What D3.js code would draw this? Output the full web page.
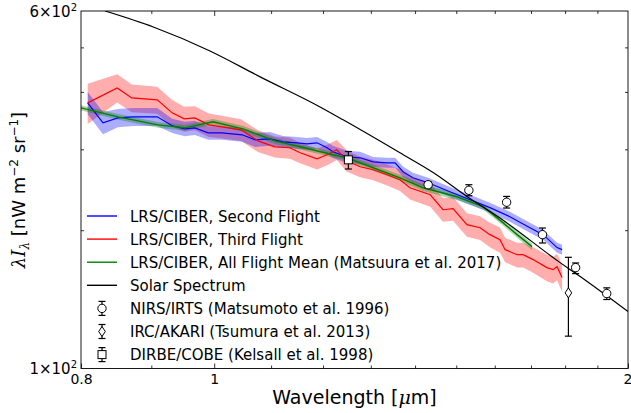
<!DOCTYPE html>
<html><head><meta charset="utf-8">
<script src="https://cdn.jsdelivr.net/npm/d3@7"></script>
<style>
body{margin:0;background:#fff}
svg{display:block}
text{font-family:"DejaVu Sans",sans-serif;fill:#000}
</style>
</head><body>
<svg id="chart" width="631" height="413"></svg>
<script>
// ---------- data ----------
const blueWl  = [0.809,0.830,0.851,0.873,0.909,0.932,0.952,0.968,0.990,1.013,1.048,1.071,1.098,1.122,1.149,1.168,1.188,1.208,1.220,1.249,1.277,1.305,1.336,1.354,1.372,1.395,1.431,1.484,1.535,1.587,1.641,1.697,1.735,1.776,1.791];
const blueVal = [378.6,342.6,351.2,353.0,353.0,337.5,332.4,334.1,325.8,325.8,322.6,314.6,316.2,311.5,309.9,308.4,309.9,302.3,296.3,289.0,287.5,281.8,280.4,280.4,268.1,260.1,253.7,242.5,233.0,223.9,214.0,202.5,195.6,183.3,181.4];
const blueErr = [21,19,16,16,16,12,12,12,11,11,11,11,11,9,9,9,9,9,9,9,9,7,7,7,7,6.5,6.3,6,5.8,5.6,5.4,5,4.9,4.6,4.5];

const redWl  = [0.809,0.850,0.871,0.909,0.932,0.951,0.968,0.991,1.013,1.046,1.076,1.107,1.135,1.155,1.188,1.208,1.228,1.249,1.277,1.305,1.336,1.365,1.388,1.436,1.467,1.492,1.527,1.561,1.587,1.614,1.628,1.661,1.678,1.706,1.746,1.764,1.776,1.791];
const redVal = [378.6,408.1,388.2,384.3,360.1,349.5,351.2,339.1,335.8,330.8,313.0,303.8,302.3,294.8,286.1,291.9,299.2,283.2,274.9,270.8,264.1,257.5,247.4,238.9,221.6,222.8,205.6,202.5,195.6,190.7,181.4,176.9,176.9,172.6,165.8,164.1,166.6,157.7];
const redErr = [38,29,27,26,24,22,21,20,19,18,17,16,16,15,15,15,15,15,14,14,14,14,14,14,13,13,12,12,12,12,11,11,11,11,11,11,11,11];

const greenWl  = [0.800,0.851,0.910,0.952,0.998,1.049,1.107,1.155,1.220,1.249,1.305,1.365,1.419,1.502,1.569,1.622,1.661,1.703];
const greenVal = [369.3,353.0,339.1,334.1,344.3,332.4,313.0,303.8,291.9,287.5,273.5,260.1,247.4,236.5,225.0,207.7,195.6,184.2];
const greenErr = [5,5,5,5,5,5,5,4,4,4,4,4,4,4,3,3,3,3];

const solarWl  = [0.833,0.903,0.993,1.080,1.194,1.241,1.365,1.443,1.527,1.614,1.785,1.846,2.0];
const solarVal = [600,553.9,491.2,431.3,371.0,347.8,294.8,267.0,236.9,212.6,170.0,158.5,133.0];

const irtsWl  = [1.431,1.532,1.632,1.733,1.832,1.930];
const irtsVal = [251.2,244.3,230.1,195.6,165.8,145.6];
const irtsLo  = [247.5,237.7,223.5,187.6,160.9,141.3];
const irtsHi  = [255.0,251.2,236.9,202.2,169.7,149.8];

const akariWl  = [1.81];
const akariVal = [146.1];
const akariLo  = [117.6];
const akariHi  = [174.6];

const dirbeWl  = [1.252];
const dirbeVal = [284.6];
const dirbeLo  = [271.8];
const dirbeHi  = [296.7];

const xMajorTicks = [0.8, 1, 2];
const xMinorTicks = [0.9, 1.1, 1.2, 1.3, 1.4, 1.5, 1.6, 1.7, 1.8, 1.9];
const yMinorTicks = [200, 300, 400, 500];
const yTickLabels = [{v:600, m:"6×10", e:"2"}, {v:100, m:"1×10", e:"2"}];

const legendLines = [
  {label:"LRS/CIBER, Second Flight", color:"#0000ff"},
  {label:"LRS/CIBER, Third Flight", color:"#ff0000"},
  {label:"LRS/CIBER, All Flight Mean (Matsuura et al. 2017)", color:"#008000"},
  {label:"Solar Spectrum", color:"#000000"}
];
const legendPoints = [
  {label:"NIRS/IRTS (Matsumoto et al. 1996)", shape:"circle"},
  {label:"IRC/AKARI (Tsumura et al. 2013)", shape:"diamond"},
  {label:"DIRBE/COBE (Kelsall et al. 1998)", shape:"square"}
];

// ---------- layout ----------
const L = 81, R = 628, T = 11, B = 368.5;
const svg = d3.select("#chart");
const x = d3.scaleLog().domain([0.8, 2]).range([L, R]);
const y = d3.scaleLog().domain([100, 600]).range([B, T]);

svg.append("defs").append("clipPath").attr("id","clip")
  .append("rect").attr("x",L).attr("y",T).attr("width",R-L).attr("height",B-T);
const plot = svg.append("g").attr("clip-path","url(#clip)");

function zipS(wl, v, e){ return wl.map((w,i)=>({w, v:v[i], e:e ? e[i] : 0})); }

const area = d3.area().x(d=>x(d.w)).y0(d=>y(d.v-d.e)).y1(d=>y(d.v+d.e));
const line = d3.line().x(d=>x(d.w)).y(d=>y(d.v));
const smooth = d3.line().x(d=>x(d.w)).y(d=>y(d.v)).curve(d3.curveMonotoneX);

const blue = zipS(blueWl, blueVal, blueErr);
const red = zipS(redWl, redVal, redErr);
const green = zipS(greenWl, greenVal, greenErr);
const solar = zipS(solarWl, solarVal);

plot.append("path").datum(red).attr("d", area).attr("fill","rgba(255,0,0,0.32)");
plot.append("path").datum(blue).attr("d", area).attr("fill","rgba(0,0,255,0.32)");
plot.append("path").datum(green).attr("d", area).attr("fill","rgba(0,128,0,0.32)");

plot.append("path").datum(blue).attr("d", line).attr("fill","none").attr("stroke","#0000ff").attr("stroke-width",1.2);
plot.append("path").datum(red).attr("d", line).attr("fill","none").attr("stroke","#ff0000").attr("stroke-width",1.2);
plot.append("path").datum(green).attr("d", line).attr("fill","none").attr("stroke","#008000").attr("stroke-width",1.4);
plot.append("path").datum(solar).attr("d", smooth).attr("fill","none").attr("stroke","#000").attr("stroke-width",1.2);

// ---------- error-bar points ----------
function marker(g, shape, cx, cy){
  if (shape === "circle") {
    g.append("circle").attr("cx",cx).attr("cy",cy).attr("r",4.2)
      .attr("fill","#fff").attr("stroke","#000").attr("stroke-width",1);
  } else if (shape === "square") {
    g.append("rect").attr("x",cx-4).attr("y",cy-4).attr("width",8).attr("height",8)
      .attr("fill","#fff").attr("stroke","#000").attr("stroke-width",1);
  } else {
    g.append("path").attr("d",`M${cx},${cy-5}L${cx+3.3},${cy}L${cx},${cy+5}L${cx-3.3},${cy}Z`)
      .attr("fill","#fff").attr("stroke","#000").attr("stroke-width",1);
  }
}
function errbar(g, cx, y0, y1){
  g.append("line").attr("x1",cx).attr("x2",cx).attr("y1",y0).attr("y2",y1).attr("stroke","#000").attr("stroke-width",1.2);
  [y0,y1].forEach(yy=>g.append("line").attr("x1",cx-3.5).attr("x2",cx+3.5).attr("y1",yy).attr("y2",yy).attr("stroke","#000").attr("stroke-width",1.2));
}
function pointSet(wl, v, lo, hi, shape){
  const g = svg.append("g");
  wl.forEach((w,i)=>{
    errbar(g, x(w), y(hi[i]), y(lo[i]));
    marker(g, shape, x(w), y(v[i]));
  });
}
pointSet(irtsWl, irtsVal, irtsLo, irtsHi, "circle");
pointSet(akariWl, akariVal, akariLo, akariHi, "diamond");
pointSet(dirbeWl, dirbeVal, dirbeLo, dirbeHi, "square");

// ---------- axes ----------
const tickStyle = g => { g.select(".domain").remove(); g.selectAll("line").attr("stroke","#000").attr("stroke-width",0.8); };

svg.append("g").attr("transform",`translate(0,${B})`)
  .call(d3.axisBottom(x).tickValues(xMinorTicks).tickSize(-3).tickFormat(""))
  .call(tickStyle);
svg.append("g").attr("transform",`translate(0,${T})`)
  .call(d3.axisTop(x).tickValues(xMinorTicks).tickSize(-3).tickFormat(""))
  .call(tickStyle);
const xb = svg.append("g").attr("transform",`translate(0,${B})`)
  .call(d3.axisBottom(x).tickValues(xMajorTicks).tickSize(-5).tickPadding(6).tickFormat(d3.format("")))
  .call(tickStyle);
xb.selectAll("text").attr("font-size",14).attr("font-family","DejaVu Sans")
  .filter(d=>d===2).attr("text-anchor","end").attr("x",4);
svg.append("g").attr("transform",`translate(0,${T})`)
  .call(d3.axisTop(x).tickValues([1]).tickSize(-5).tickFormat(""))
  .call(tickStyle);

svg.append("g").attr("transform",`translate(${L},0)`)
  .call(d3.axisLeft(y).tickValues(yMinorTicks).tickSize(-3).tickFormat(""))
  .call(tickStyle);
svg.append("g").attr("transform",`translate(${R},0)`)
  .call(d3.axisRight(y).tickValues(yMinorTicks).tickSize(-3).tickFormat(""))
  .call(tickStyle);

yTickLabels.forEach(t=>{
  const tx = svg.append("text").attr("x",L-4).attr("y",y(t.v)+5.5).attr("text-anchor","end").attr("font-size",15);
  tx.append("tspan").text(t.m);
  tx.append("tspan").attr("font-size",10).attr("dy",-6).text(t.e);
});

// frame
svg.append("rect").attr("x",L).attr("y",T).attr("width",R-L).attr("height",B-T)
  .attr("fill","none").attr("stroke","#000").attr("stroke-width",0.9);

// axis titles
const xl = svg.append("text").attr("x",(L+R)/2).attr("y",404).attr("text-anchor","middle").attr("font-size",19);
xl.append("tspan").text("Wavelength [");
xl.append("tspan").attr("font-family","DejaVu Serif").attr("font-style","italic").text("μ");
xl.append("tspan").text("m]");
const yl = svg.append("text").attr("transform","translate(25,190) rotate(-90)").attr("text-anchor","middle").attr("font-size",18);
yl.append("tspan").attr("font-family","DejaVu Serif").attr("font-style","italic").text("λI");
yl.append("tspan").attr("font-family","DejaVu Serif").attr("font-style","italic").attr("font-size",12).attr("dy",4).text("λ");
yl.append("tspan").attr("dy",-4).text(" [nW m");
yl.append("tspan").attr("font-size",12).attr("dy",-7).text("−2");
yl.append("tspan").attr("dy",7).text(" sr");
yl.append("tspan").attr("font-size",12).attr("dy",-7).text("−1");
yl.append("tspan").attr("dy",7).text("]");

// ---------- legend ----------
const legY0 = 216, legStep = 23.1;
const leg = svg.append("g");
legendLines.forEach((d,i)=>{
  const yy = legY0 + i*legStep;
  leg.append("line").attr("x1",87).attr("x2",117).attr("y1",yy).attr("y2",yy).attr("stroke",d.color).attr("stroke-width",1.4);
  leg.append("text").attr("x",130).attr("y",yy+5.5).attr("font-size",15).text(d.label);
});
legendPoints.forEach((d,i)=>{
  const yy = legY0 + (i+4)*legStep;
  errbar(leg, 102, yy-7, yy+7);
  marker(leg, d.shape, 102, yy);
  leg.append("text").attr("x",130).attr("y",yy+5.5).attr("font-size",15).text(d.label);
});
</script>
</body></html>
